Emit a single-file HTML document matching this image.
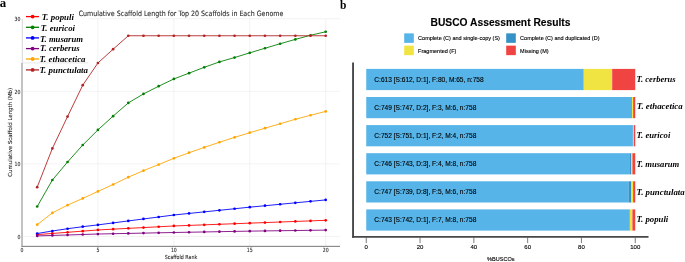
<!DOCTYPE html>
<html><head><meta charset="utf-8"><title>Figure</title>
<style>
html,body{margin:0;padding:0;background:#fff}
svg{display:block}
.dj{font-family:"DejaVu Sans","Liberation Sans",sans-serif;fill:#2a2a2a;stroke:#2a2a2a;stroke-width:0.1px}
.ar{font-family:"Liberation Sans",sans-serif;fill:#000;stroke:#000;stroke-width:0.12px}
.sp{font-family:"Liberation Serif",serif;font-weight:bold;font-style:italic;fill:#000}
.pl{font-family:"Liberation Serif",serif;font-weight:bold;fill:#000}
</style></head><body>
<svg width="685" height="262" viewBox="0 0 685 262">
<rect width="685" height="262" fill="#fff"/>
<text class="pl" x="-0.2" y="7.3" font-size="12.8">a</text>
<text class="pl" x="340.0" y="9.2" font-size="11.5">b</text>
<g stroke="#ebebeb" stroke-width="0.6">
<line x1="22" x2="340" y1="236.50" y2="236.50"/>
<line x1="22" x2="340" y1="163.90" y2="163.90"/>
<line x1="22" x2="340" y1="91.30" y2="91.30"/>
<line x1="89" x2="340" y1="18.70" y2="18.70"/>
<line x1="97.92" x2="97.92" y1="18.7" y2="246"/>
<line x1="173.85" x2="173.85" y1="18.7" y2="246"/>
<line x1="249.78" x2="249.78" y1="18.7" y2="246"/>
<line x1="325.70" x2="325.70" y1="18.7" y2="246"/>
</g>
<line x1="22.0" x2="22.0" y1="63" y2="246.8" stroke="#c2c2c2" stroke-width="2"/>
<line x1="22.3" x2="22.3" y1="19" y2="63" stroke="#d6d6d6" stroke-width="1"/>
<line x1="22.8" x2="88.5" y1="62.9" y2="62.9" stroke="#dcdcdc" stroke-width="0.7"/>
<line x1="21.6" x2="340" y1="246.35" y2="246.35" stroke="#777" stroke-width="1.0"/>
<text class="dj" transform="translate(181.00,15.60) scale(0.8656,1)" font-size="7.3" text-anchor="middle">Cumulative Scaffold Length for Top 20 Scaffolds in Each Genome</text>
<text class="dj" transform="translate(20.40,238.85) scale(0.8,1)" font-size="5.8" text-anchor="end">0</text>
<text class="dj" transform="translate(20.40,166.25) scale(0.8,1)" font-size="5.8" text-anchor="end">10</text>
<text class="dj" transform="translate(20.40,93.65) scale(0.8,1)" font-size="5.8" text-anchor="end">20</text>
<text class="dj" transform="translate(20.40,21.05) scale(0.8,1)" font-size="5.8" text-anchor="end">30</text>
<text class="dj" transform="translate(22.00,252.00) scale(0.8,1)" font-size="5.8" text-anchor="middle">0</text>
<text class="dj" transform="translate(97.92,252.00) scale(0.8,1)" font-size="5.8" text-anchor="middle">5</text>
<text class="dj" transform="translate(173.85,252.00) scale(0.8,1)" font-size="5.8" text-anchor="middle">10</text>
<text class="dj" transform="translate(249.78,252.00) scale(0.8,1)" font-size="5.8" text-anchor="middle">15</text>
<text class="dj" transform="translate(325.70,252.00) scale(0.8,1)" font-size="5.8" text-anchor="middle">20</text>
<text class="dj" transform="translate(181.00,259.10) scale(0.864,1)" font-size="5.5" text-anchor="middle">Scaffold Rank</text>
<text class="dj" transform="translate(12.10,132.30) rotate(-90) scale(0.989,1)" font-size="5.5" text-anchor="middle">Cumulative Scaffold Length (Mb)</text>
<polyline points="37.19,234.61 52.37,233.45 67.56,232.29 82.74,231.13 97.92,229.97 113.11,229.17 128.30,228.37 143.48,227.57 158.66,226.77 173.85,225.97 189.03,225.41 204.22,224.84 219.41,224.27 234.59,223.71 249.78,223.14 264.96,222.58 280.14,222.01 295.33,221.44 310.51,220.88 325.70,220.31" fill="none" stroke="#ff0000" stroke-width="0.88" stroke-linejoin="round"/>
<g fill="#ff0000"><circle cx="37.19" cy="234.61" r="1.35"/><circle cx="52.37" cy="233.45" r="1.35"/><circle cx="67.56" cy="232.29" r="1.35"/><circle cx="82.74" cy="231.13" r="1.35"/><circle cx="97.92" cy="229.97" r="1.35"/><circle cx="113.11" cy="229.17" r="1.35"/><circle cx="128.30" cy="228.37" r="1.35"/><circle cx="143.48" cy="227.57" r="1.35"/><circle cx="158.66" cy="226.77" r="1.35"/><circle cx="173.85" cy="225.97" r="1.35"/><circle cx="189.03" cy="225.41" r="1.35"/><circle cx="204.22" cy="224.84" r="1.35"/><circle cx="219.41" cy="224.27" r="1.35"/><circle cx="234.59" cy="223.71" r="1.35"/><circle cx="249.78" cy="223.14" r="1.35"/><circle cx="264.96" cy="222.58" r="1.35"/><circle cx="280.14" cy="222.01" r="1.35"/><circle cx="295.33" cy="221.44" r="1.35"/><circle cx="310.51" cy="220.88" r="1.35"/><circle cx="325.70" cy="220.31" r="1.35"/></g>
<polyline points="37.19,206.52 52.37,180.02 67.56,162.01 82.74,145.02 97.92,129.92 113.11,116.13 128.30,102.92 143.48,93.91 158.66,86.22 173.85,78.96 189.03,73.15 204.22,67.34 219.41,61.90 234.59,57.54 249.78,52.82 264.96,48.25 280.14,43.75 295.33,39.39 310.51,35.25 325.70,31.77" fill="none" stroke="#008000" stroke-width="0.88" stroke-linejoin="round"/>
<g fill="#008000"><circle cx="37.19" cy="206.52" r="1.35"/><circle cx="52.37" cy="180.02" r="1.35"/><circle cx="67.56" cy="162.01" r="1.35"/><circle cx="82.74" cy="145.02" r="1.35"/><circle cx="97.92" cy="129.92" r="1.35"/><circle cx="113.11" cy="116.13" r="1.35"/><circle cx="128.30" cy="102.92" r="1.35"/><circle cx="143.48" cy="93.91" r="1.35"/><circle cx="158.66" cy="86.22" r="1.35"/><circle cx="173.85" cy="78.96" r="1.35"/><circle cx="189.03" cy="73.15" r="1.35"/><circle cx="204.22" cy="67.34" r="1.35"/><circle cx="219.41" cy="61.90" r="1.35"/><circle cx="234.59" cy="57.54" r="1.35"/><circle cx="249.78" cy="52.82" r="1.35"/><circle cx="264.96" cy="48.25" r="1.35"/><circle cx="280.14" cy="43.75" r="1.35"/><circle cx="295.33" cy="39.39" r="1.35"/><circle cx="310.51" cy="35.25" r="1.35"/><circle cx="325.70" cy="31.77" r="1.35"/></g>
<polyline points="37.19,233.52 52.37,230.98 67.56,228.73 82.74,226.70 97.92,224.88 113.11,222.91 128.30,220.93 143.48,218.96 158.66,216.99 173.85,215.01 189.03,213.44 204.22,211.87 219.41,210.31 234.59,208.74 249.78,207.17 264.96,205.72 280.14,204.27 295.33,202.81 310.51,201.36 325.70,199.91" fill="none" stroke="#0000ff" stroke-width="0.88" stroke-linejoin="round"/>
<g fill="#0000ff"><circle cx="37.19" cy="233.52" r="1.35"/><circle cx="52.37" cy="230.98" r="1.35"/><circle cx="67.56" cy="228.73" r="1.35"/><circle cx="82.74" cy="226.70" r="1.35"/><circle cx="97.92" cy="224.88" r="1.35"/><circle cx="113.11" cy="222.91" r="1.35"/><circle cx="128.30" cy="220.93" r="1.35"/><circle cx="143.48" cy="218.96" r="1.35"/><circle cx="158.66" cy="216.99" r="1.35"/><circle cx="173.85" cy="215.01" r="1.35"/><circle cx="189.03" cy="213.44" r="1.35"/><circle cx="204.22" cy="211.87" r="1.35"/><circle cx="219.41" cy="210.31" r="1.35"/><circle cx="234.59" cy="208.74" r="1.35"/><circle cx="249.78" cy="207.17" r="1.35"/><circle cx="264.96" cy="205.72" r="1.35"/><circle cx="280.14" cy="204.27" r="1.35"/><circle cx="295.33" cy="202.81" r="1.35"/><circle cx="310.51" cy="201.36" r="1.35"/><circle cx="325.70" cy="199.91" r="1.35"/></g>
<polyline points="37.19,235.92 52.37,235.45 67.56,234.98 82.74,234.50 97.92,234.03 113.11,233.73 128.30,233.42 143.48,233.12 158.66,232.81 173.85,232.51 189.03,232.23 204.22,231.96 219.41,231.68 234.59,231.40 249.78,231.13 264.96,230.92 280.14,230.72 295.33,230.52 310.51,230.31 325.70,230.11" fill="none" stroke="#800080" stroke-width="0.88" stroke-linejoin="round"/>
<g fill="#800080"><circle cx="37.19" cy="235.92" r="1.35"/><circle cx="52.37" cy="235.45" r="1.35"/><circle cx="67.56" cy="234.98" r="1.35"/><circle cx="82.74" cy="234.50" r="1.35"/><circle cx="97.92" cy="234.03" r="1.35"/><circle cx="113.11" cy="233.73" r="1.35"/><circle cx="128.30" cy="233.42" r="1.35"/><circle cx="143.48" cy="233.12" r="1.35"/><circle cx="158.66" cy="232.81" r="1.35"/><circle cx="173.85" cy="232.51" r="1.35"/><circle cx="189.03" cy="232.23" r="1.35"/><circle cx="204.22" cy="231.96" r="1.35"/><circle cx="219.41" cy="231.68" r="1.35"/><circle cx="234.59" cy="231.40" r="1.35"/><circle cx="249.78" cy="231.13" r="1.35"/><circle cx="264.96" cy="230.92" r="1.35"/><circle cx="280.14" cy="230.72" r="1.35"/><circle cx="295.33" cy="230.52" r="1.35"/><circle cx="310.51" cy="230.31" r="1.35"/><circle cx="325.70" cy="230.11" r="1.35"/></g>
<polyline points="37.19,224.67 52.37,212.91 67.56,205.14 82.74,198.38 97.92,191.42 113.11,184.52 128.30,177.19 143.48,170.65 158.66,164.55 173.85,158.31 189.03,152.72 204.22,147.42 219.41,142.27 234.59,137.33 249.78,132.68 264.96,128.18 280.14,123.75 295.33,119.25 310.51,115.26 325.70,111.41" fill="none" stroke="#ffa500" stroke-width="0.88" stroke-linejoin="round"/>
<g fill="#ffa500"><circle cx="37.19" cy="224.67" r="1.35"/><circle cx="52.37" cy="212.91" r="1.35"/><circle cx="67.56" cy="205.14" r="1.35"/><circle cx="82.74" cy="198.38" r="1.35"/><circle cx="97.92" cy="191.42" r="1.35"/><circle cx="113.11" cy="184.52" r="1.35"/><circle cx="128.30" cy="177.19" r="1.35"/><circle cx="143.48" cy="170.65" r="1.35"/><circle cx="158.66" cy="164.55" r="1.35"/><circle cx="173.85" cy="158.31" r="1.35"/><circle cx="189.03" cy="152.72" r="1.35"/><circle cx="204.22" cy="147.42" r="1.35"/><circle cx="219.41" cy="142.27" r="1.35"/><circle cx="234.59" cy="137.33" r="1.35"/><circle cx="249.78" cy="132.68" r="1.35"/><circle cx="264.96" cy="128.18" r="1.35"/><circle cx="280.14" cy="123.75" r="1.35"/><circle cx="295.33" cy="119.25" r="1.35"/><circle cx="310.51" cy="115.26" r="1.35"/><circle cx="325.70" cy="111.41" r="1.35"/></g>
<polyline points="37.19,187.13 52.37,148.44 67.56,116.56 82.74,85.20 97.92,62.99 113.11,49.19 128.30,35.76 143.48,35.76 158.66,35.76 173.85,35.76 189.03,35.76 204.22,35.76 219.41,35.76 234.59,35.76 249.78,35.76 264.96,35.76 280.14,35.76 295.33,35.76 310.51,35.76 325.70,35.76" fill="none" stroke="#b22222" stroke-width="0.88" stroke-linejoin="round"/>
<g fill="#b22222"><circle cx="37.19" cy="187.13" r="1.35"/><circle cx="52.37" cy="148.44" r="1.35"/><circle cx="67.56" cy="116.56" r="1.35"/><circle cx="82.74" cy="85.20" r="1.35"/><circle cx="97.92" cy="62.99" r="1.35"/><circle cx="113.11" cy="49.19" r="1.35"/><circle cx="128.30" cy="35.76" r="1.35"/><circle cx="143.48" cy="35.76" r="1.35"/><circle cx="158.66" cy="35.76" r="1.35"/><circle cx="173.85" cy="35.76" r="1.35"/><circle cx="189.03" cy="35.76" r="1.35"/><circle cx="204.22" cy="35.76" r="1.35"/><circle cx="219.41" cy="35.76" r="1.35"/><circle cx="234.59" cy="35.76" r="1.35"/><circle cx="249.78" cy="35.76" r="1.35"/><circle cx="264.96" cy="35.76" r="1.35"/><circle cx="280.14" cy="35.76" r="1.35"/><circle cx="295.33" cy="35.76" r="1.35"/><circle cx="310.51" cy="35.76" r="1.35"/><circle cx="325.70" cy="35.76" r="1.35"/></g>
<line x1="26" x2="39" y1="16.60" y2="16.60" stroke="#ff0000" stroke-width="1.3"/><circle cx="32.6" cy="16.60" r="1.9" fill="#ff0000"/>
<text class="sp" x="41.75" y="19.50" font-size="8.9">T. populi</text>
<line x1="26" x2="39" y1="27.30" y2="27.30" stroke="#008000" stroke-width="1.3"/><circle cx="32.6" cy="27.30" r="1.9" fill="#008000"/>
<text class="sp" x="40.80" y="30.60" font-size="8.75">T. euricoi</text>
<line x1="26" x2="39" y1="37.90" y2="37.90" stroke="#0000ff" stroke-width="1.3"/><circle cx="32.6" cy="37.90" r="1.9" fill="#0000ff"/>
<text class="sp" x="40.10" y="41.60" font-size="8.65">T. musarum</text>
<line x1="26" x2="39" y1="48.60" y2="48.60" stroke="#800080" stroke-width="1.3"/><circle cx="32.6" cy="48.60" r="1.9" fill="#800080"/>
<text class="sp" x="40.10" y="51.40" font-size="8.65">T. cerberus</text>
<line x1="26" x2="39" y1="59.00" y2="59.00" stroke="#ffa500" stroke-width="1.3"/><circle cx="32.6" cy="59.00" r="1.9" fill="#ffa500"/>
<text class="sp" x="39.50" y="61.70" font-size="8.9">T. ethacetica</text>
<line x1="26" x2="39" y1="69.90" y2="69.90" stroke="#b22222" stroke-width="1.3"/><circle cx="32.6" cy="69.90" r="1.9" fill="#b22222"/>
<text class="sp" x="39.50" y="72.60" font-size="8.88">T. punctulata</text>
<text class="ar" x="500.5" y="26.4" font-size="10.8" font-weight="bold" text-anchor="middle" textLength="140" lengthAdjust="spacingAndGlyphs">BUSCO Assessment Results</text>
<rect x="404.2" y="33.35" width="9.6" height="9.5" fill="#56B4E9"/>
<text class="ar" x="418.1" y="40.2" font-size="5.53">Complete (C) and single-copy (S)</text>
<rect x="506.2" y="33.35" width="9.6" height="9.5" fill="#3492C7"/>
<text class="ar" x="520.1" y="40.2" font-size="5.53">Complete (C) and duplicated (D)</text>
<rect x="404.2" y="45.65" width="9.6" height="9.5" fill="#F0E442"/>
<text class="ar" x="418.1" y="52.55" font-size="5.53">Fragmented (F)</text>
<rect x="506.2" y="45.65" width="9.6" height="9.5" fill="#F04442"/>
<text class="ar" x="520.1" y="52.55" font-size="5.53">Missing (M)</text>
<rect x="366.25" y="68.90" width="217.19" height="21.2" fill="#56B4E9"/><rect x="583.44" y="68.90" width="0.35" height="21.2" fill="#3492C7"/><rect x="583.79" y="68.90" width="28.39" height="21.2" fill="#F0E442"/><rect x="612.18" y="68.90" width="23.07" height="21.2" fill="#F04442"/>
<text class="ar" x="374.3" y="82.00" font-size="6.58">C:613 [S:612, D:1], F:80, M:65, n:758</text>
<text class="sp" x="636.6" y="82.05" font-size="8.55">T. cerberus</text>
<rect x="366.25" y="97.00" width="265.10" height="21.2" fill="#56B4E9"/><rect x="631.35" y="97.00" width="0.71" height="21.2" fill="#3492C7"/><rect x="632.06" y="97.00" width="1.06" height="21.2" fill="#F0E442"/><rect x="633.12" y="97.00" width="2.13" height="21.2" fill="#F04442"/>
<text class="ar" x="374.3" y="110.08" font-size="6.58">C:749 [S:747, D:2], F:3, M:6, n:758</text>
<text class="sp" x="636.85" y="109.42" font-size="8.85">T. ethacetica</text>
<rect x="366.25" y="125.10" width="266.52" height="21.2" fill="#56B4E9"/><rect x="632.77" y="125.10" width="0.35" height="21.2" fill="#3492C7"/><rect x="633.12" y="125.10" width="0.71" height="21.2" fill="#F0E442"/><rect x="633.83" y="125.10" width="1.42" height="21.2" fill="#F04442"/>
<text class="ar" x="374.3" y="138.16" font-size="6.58">C:752 [S:751, D:1], F:2, M:4, n:758</text>
<text class="sp" x="636.6" y="137.69" font-size="8.65">T. euricoi</text>
<rect x="366.25" y="153.20" width="263.68" height="21.2" fill="#56B4E9"/><rect x="629.93" y="153.20" width="1.06" height="21.2" fill="#3492C7"/><rect x="630.99" y="153.20" width="1.42" height="21.2" fill="#F0E442"/><rect x="632.41" y="153.20" width="2.84" height="21.2" fill="#F04442"/>
<text class="ar" x="374.3" y="166.24" font-size="6.58">C:746 [S:743, D:3], F:4, M:8, n:758</text>
<text class="sp" x="636.6" y="167.01" font-size="8.58">T. musarum</text>
<rect x="366.25" y="181.30" width="262.26" height="21.2" fill="#56B4E9"/><rect x="628.51" y="181.30" width="2.84" height="21.2" fill="#3492C7"/><rect x="631.35" y="181.30" width="1.77" height="21.2" fill="#F0E442"/><rect x="633.12" y="181.30" width="2.13" height="21.2" fill="#F04442"/>
<text class="ar" x="374.3" y="194.32" font-size="6.58">C:747 [S:739, D:8], F:5, M:6, n:758</text>
<text class="sp" x="636.6" y="194.93" font-size="8.8">T. punctulata</text>
<rect x="366.25" y="209.40" width="263.32" height="21.2" fill="#56B4E9"/><rect x="629.57" y="209.40" width="0.35" height="21.2" fill="#3492C7"/><rect x="629.93" y="209.40" width="2.48" height="21.2" fill="#F0E442"/><rect x="632.41" y="209.40" width="2.84" height="21.2" fill="#F04442"/>
<text class="ar" x="374.3" y="222.40" font-size="6.58">C:743 [S:742, D:1], F:7, M:8, n:758</text>
<text class="sp" x="636.6" y="222.05" font-size="8.72">T. populi</text>
<line x1="353.05" x2="353.05" y1="62.5" y2="237.8" stroke="#474747" stroke-width="1.9"/>
<line x1="352.1" x2="648.5" y1="236.9" y2="236.9" stroke="#474747" stroke-width="1.9"/>
<line x1="366.25" x2="366.25" y1="237.5" y2="243.1" stroke="#444" stroke-width="0.7"/><text class="ar" x="366.25" y="248.9" font-size="6" text-anchor="middle">0</text>
<line x1="420.05" x2="420.05" y1="237.5" y2="243.1" stroke="#444" stroke-width="0.7"/><text class="ar" x="420.05" y="248.9" font-size="6" text-anchor="middle">20</text>
<line x1="473.85" x2="473.85" y1="237.5" y2="243.1" stroke="#444" stroke-width="0.7"/><text class="ar" x="473.85" y="248.9" font-size="6" text-anchor="middle">40</text>
<line x1="527.65" x2="527.65" y1="237.5" y2="243.1" stroke="#444" stroke-width="0.7"/><text class="ar" x="527.65" y="248.9" font-size="6" text-anchor="middle">60</text>
<line x1="581.45" x2="581.45" y1="237.5" y2="243.1" stroke="#444" stroke-width="0.7"/><text class="ar" x="581.45" y="248.9" font-size="6" text-anchor="middle">80</text>
<line x1="635.25" x2="635.25" y1="237.5" y2="243.1" stroke="#444" stroke-width="0.7"/><text class="ar" x="635.25" y="248.9" font-size="6" text-anchor="middle">100</text>
<text class="ar" x="500.8" y="260.9" font-size="5.55" text-anchor="middle">%BUSCOs</text>
</svg>
</body></html>
